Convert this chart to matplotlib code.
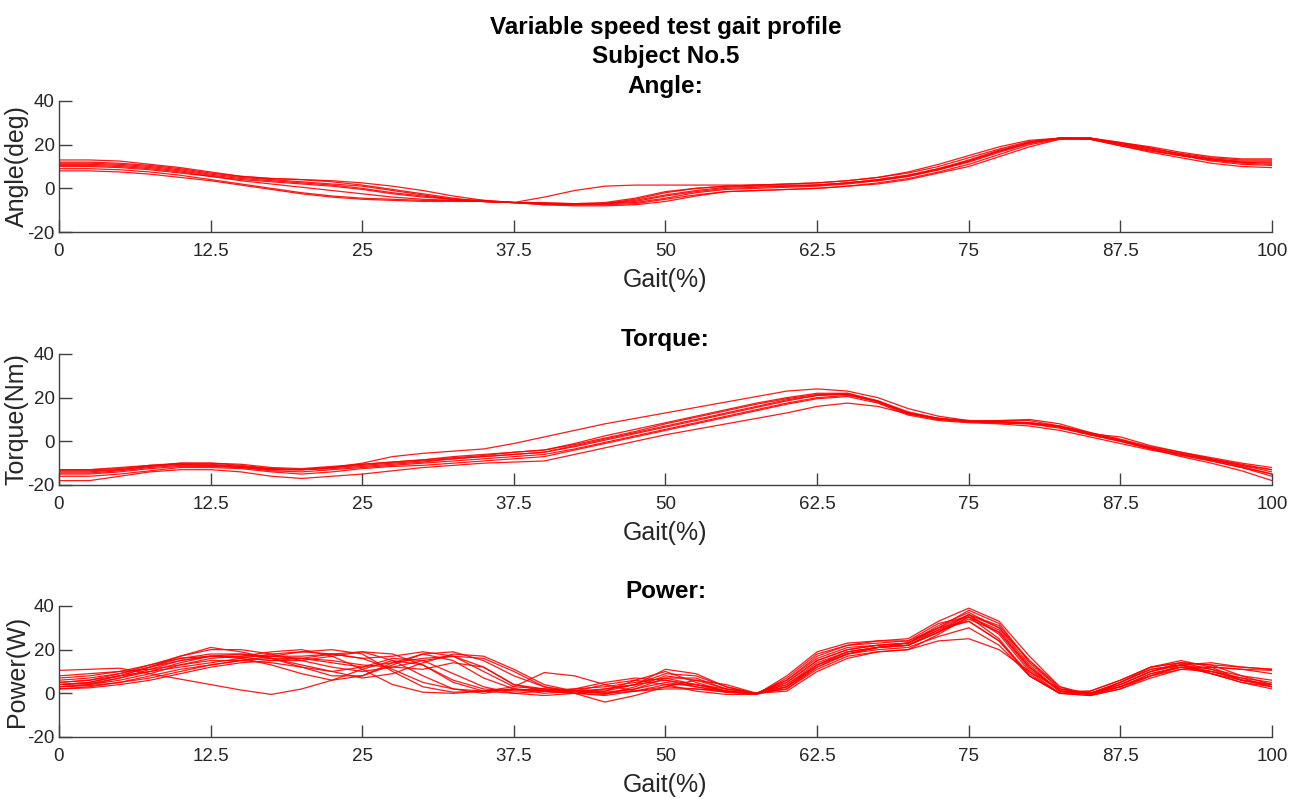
import numpy as np
import matplotlib
matplotlib.use("Agg")
import matplotlib.pyplot as plt

# gait percentage sampled every 2.5 %
gait = np.arange(0, 100.01, 2.5)

angle_trials = [
    [12, 12, 11.5, 10.5, 9, 7, 5.5, 4.5, 4, 3.5, 2.5, 1, -1, -3.5, -5.5, -6.5, -6.5, -7, -7, -5, -2, 0, 1, 1.5, 2, 2.5, 3.5, 5, 7, 10, 14, 18, 21.5, 23, 23, 20.5, 18, 16, 14, 13, 13],
    [11, 11, 10.5, 9.5, 8, 6, 4.5, 3.5, 2.5, 1.5, 0, -2, -3.5, -5, -6, -6.5, -4, -1, 1, 1.5, 1.5, 1.5, 1.5, 1.5, 1.5, 1.5, 2.5, 4, 6, 9, 12.5, 17, 21, 23, 23, 21, 18.5, 15.5, 13.5, 12, 11.5],
    [9, 9, 8.5, 7.5, 6, 4, 2, 0, -2, -3.5, -4.5, -5, -5.5, -5.5, -6, -6.5, -7, -7.5, -7.5, -7, -5, -3, -1.5, -1, -0.5, 0, 1, 2.5, 4.5, 7.5, 11, 15.5, 20, 22.5, 22.5, 19.5, 17, 15, 12.5, 11, 10.5],
    [10, 10, 9.5, 8.5, 7, 5.5, 4, 3, 2, 1, -0.5, -2.5, -4, -5, -5.5, -6.5, -7, -7, -7, -6, -3.5, -1.5, 0, 0.5, 1, 1.5, 2.5, 4, 6, 9, 13, 17.5, 21, 23, 22.5, 20, 17.5, 15, 13, 11.5, 11],
    [13, 13, 12.5, 11, 9.5, 7.5, 5.5, 4.5, 4, 3, 1.5, -0.5, -2.5, -4.5, -6, -6.5, -7, -7, -6.5, -4.5, -1.5, 0, 1, 1.5, 2, 2.5, 3.5, 5, 7.5, 11, 15, 19, 22, 23, 23, 21, 19, 16.5, 14.5, 13.5, 13.5],
    [8, 8, 7.5, 6.5, 5, 3.5, 1.5, -0.5, -2.5, -4, -5, -5.5, -6, -6, -6, -6.5, -7.5, -8, -8, -7.5, -6, -3.5, -1.5, -1, -0.5, 0, 1, 2, 4, 7, 10, 14.5, 19, 22.5, 22.5, 19.5, 16.5, 14, 11.5, 10, 9.5],
    [11.5, 11.5, 11, 10, 8.5, 6.5, 5, 4, 3, 2, 1, -1, -3, -5, -6, -6.5, -7, -7, -7, -6.5, -4.5, -2, -0.5, 0, 0.5, 1, 2, 3.5, 5.5, 8.5, 12, 16.5, 20.5, 23, 23, 20, 17.5, 15, 13, 12, 12],
    [10.5, 10.5, 10, 9, 7.5, 5.5, 3.5, 2, 0.5, -1, -2.5, -4, -5, -5.5, -6, -6.5, -7.5, -7.5, -7, -5.5, -3, -1, 0.5, 1, 1, 1.5, 2.5, 3.5, 5.5, 8.5, 12.5, 17, 21, 23, 23, 20.5, 18.5, 15.5, 13.5, 12.5, 12.5],
]

torque_trials = [
    [-13, -13, -12, -11, -10.5, -11, -12, -13, -13, -12, -10, -7, -5.5, -4.5, -3.5, -1, 2, 5, 8, 10.5, 13, 15.5, 18, 20.5, 23, 24, 23, 20, 15, 11.5, 9.5, 9, 8.5, 7, 4, 0.5, -3, -6, -9, -12, -15],
    [-18, -18, -16, -14, -13, -13, -14, -16, -17, -16, -15, -13.5, -12, -11, -10, -9.5, -9, -6, -3, 0, 3, 5.5, 8, 10.5, 13, 16, 17.5, 16, 12.5, 10.5, 9, 8.5, 8, 6.5, 3, 0, -3.5, -7, -10, -13.5, -18],
    [-14, -14, -13, -11.5, -10.5, -10.5, -11.5, -13, -13, -12, -11, -10, -9, -8, -7, -6, -5, -2, 1, 4, 7, 10, 13, 16, 19, 21, 21.5, 18, 12.5, 10, 9, 9, 8.5, 6.5, 3, 0.5, -3, -5.5, -8, -11, -14],
    [-15, -15, -14, -12.5, -11.5, -11.5, -12, -13.5, -14, -13, -12, -11, -10, -9, -8, -7, -6, -3.5, -0.5, 2.5, 5.5, 8.5, 11.5, 14.5, 17.5, 20, 21, 18.5, 13, 10.5, 9, 8.5, 8, 6, 3, 0, -3.5, -6, -8.5, -11.5, -15],
    [-13, -13, -12.5, -11, -10, -10, -11, -12.5, -13, -12, -10.5, -9.5, -8.5, -7.5, -6.5, -5, -4, -1, 2.5, 5.5, 8.5, 11.5, 14.5, 17.5, 20, 22, 22, 18.5, 13, 10, 9, 9.5, 10, 8, 4, 1, -2.5, -5, -7.5, -10, -12],
    [-16, -16, -15, -13.5, -12, -12, -12.5, -14, -15, -14, -12.5, -11.5, -11, -10, -9, -8, -7, -4, -1, 2, 5, 8, 11, 14, 17, 19.5, 20.5, 17.5, 12, 9.5, 8.5, 8, 7, 5, 2, -1, -4, -6.5, -9, -12, -16],
    [-14.5, -14.5, -13.5, -12, -11, -11, -11.5, -12.5, -13, -12.5, -11.5, -10.5, -9.5, -8, -7, -6, -5, -2.5, 0.5, 3.5, 6.5, 9.5, 12.5, 15.5, 18.5, 21, 22, 18.5, 13.5, 10.5, 9, 8.5, 8.5, 7, 3.5, 0.5, -3, -6, -8.5, -11, -13],
    [-13.5, -13.5, -13, -11.5, -10, -10, -10.5, -12, -12.5, -11.5, -10.5, -9.5, -8.5, -7, -6, -5, -4, -1.5, 1.5, 4.5, 8, 11, 14, 17, 19.5, 21.5, 21.5, 18, 13, 10.5, 9.5, 9.5, 9.5, 7, 3.5, 2, -2, -5, -8, -10.5, -13],
]

power_trials = [
    [10.5, 11, 11.5, 9, 6.5, 4, 1.5, -0.5, 2, 6, 11, 15, 13, 5, 1, 1.5, 2, 1, 0, 2, 5, 3, 0.5, 0, 2, 11, 17, 19, 20, 24, 25, 20, 10, 2, 0, 3, 8, 11, 12, 11, 10.5],
    [4, 5, 8, 12, 16, 17, 16.5, 15, 15, 17, 19, 18, 13, 6, 2, 1, 1.5, 1, 2, 4, 6, 4, 1, 0, 5, 15, 20, 22, 23, 31, 37, 30, 15, 2, 0, 4, 10, 14, 13, 8, 4],
    [3, 4, 6, 9, 13, 16, 17, 17, 16, 14, 12, 14, 16, 17, 12, 4, 2, 1.5, 1, 4, 11, 9, 3, -0.5, 3, 13, 19, 21, 22, 28, 34, 28, 12, 1, 0, 3, 9, 12, 10, 7, 5],
    [5, 6, 9, 13, 17, 20, 20, 18, 15, 12, 10, 12, 15, 17, 16, 10, 3, 0, -0.5, 3, 8, 6, 2, 0, 6, 17, 22, 24, 25, 33, 39, 33, 17, 3, -0.5, 5, 12, 15, 12, 6, 4],
    [2, 3, 5, 8, 11, 13, 15, 17, 19, 20, 18, 10, 3, 0.5, 1, 2, 1, 2, 5, 7, 6, 3, 1, 0, 1, 10, 16, 19, 20, 27, 35, 29, 12, 1, 1, 6, 12, 14, 13, 12, 11],
    [6, 7, 9, 12, 15, 17, 17, 19, 20, 17, 11, 4, 0.5, 0, 1, 3, 2, 0, -1, 1, 4, 4, 2, 0, 4, 14, 19, 21, 23, 30, 33, 24, 8, 0, -1, 3, 8, 12, 12, 11, 9],
    [4, 4.5, 7, 10, 14, 17, 18, 16, 12, 8, 8, 14, 18, 15, 7, 2, 0, 1, 4, 6, 4, 1, -0.5, -0.5, 7, 18, 22, 23, 24, 30, 36, 27, 10, 0, 0, 5, 11, 13, 9, 5, 3],
    [3, 4, 7, 11, 15, 17, 16, 13, 9, 6, 8, 13, 18, 19, 15, 8, 3, 1, 0.5, 2, 7, 7, 2, 0, 2, 12, 18, 21, 22, 28, 36, 31, 15, 3, -1, 2, 7, 11, 10, 7, 3],
    [5, 6, 8, 10, 12, 14, 16, 18, 19, 18, 16, 17, 19, 17, 10, 3, 9.5, 8, 4, 1, 2, 2, 1, 0, 4, 13, 18, 20, 21, 26, 30, 22, 8, 0, -1, 2, 8, 13, 14, 12, 11],
    [8, 9, 10, 11, 13, 15, 15, 14, 12, 10, 12, 16, 15, 9, 3, 0, -1, 0, -4, -1, 3, 2, 0.5, -0.5, 8, 19, 23, 24, 24, 32, 35, 25, 8, 0, 0, 5, 11, 13, 9, 6, 4],
    [2, 2.5, 4, 6, 9, 12, 14, 15, 16, 18, 19, 15, 8, 2, 0, 2, 1, 0, 2, 4, 9, 8, 3, 0, 5, 15, 20, 22, 23, 30, 38, 32, 14, 2, 0, 4, 10, 13, 11, 6, 3],
    [4, 5, 8, 12, 17, 21, 19, 16, 13, 10, 7, 9, 14, 18, 17, 11, 4, 1, 0, 1, 3, 6, 4, 0, 3, 13, 19, 21, 22, 29, 36, 30, 13, 1, -0.5, 3, 9, 12, 9, 5, 2],
    [7, 8, 10, 13, 16, 18, 18, 17, 17, 18, 16, 11, 5, 2, 1, 0, 1, 2, 3, 5, 7, 4, 1, 0, 6, 16, 21, 22, 23, 29, 33, 24, 9, 0, 1, 6, 12, 14, 11, 8, 6],
    [3, 3.5, 5, 7, 10, 13, 15, 16, 16, 15, 13, 12, 11, 14, 12, 4, 1, 0, 1, 6, 10, 5, 1, 0, 3, 12, 18, 21, 22, 28, 35, 28, 11, 1, 0, 4, 10, 13, 10, 6, 4],
]

xticks = [0, 12.5, 25, 37.5, 50, 62.5, 75, 87.5, 100]
xticklabels = ["0", "12.5", "25", "37.5", "50", "62.5", "75", "87.5", "100"]
yticks = [-20, 0, 20, 40]

panels = [
    ("Variable speed test gait profile\nSubject No.5\nAngle:", "Angle(deg)", angle_trials),
    ("Torque:", "Torque(Nm)", torque_trials),
    ("Power:", "Power(W)", power_trials),
]

plt.rcParams["font.family"] = ["Liberation Sans", "DejaVu Sans"]
plt.rcParams["axes.unicode_minus"] = False
AX_GRAY = "#404040"
TXT_GRAY = "#262626"

fig = plt.figure(figsize=(12.99, 7.99), dpi=100)
bottoms = [0.7096, 0.3930, 0.0776]
for (title, ylabel, trials), b in zip(panels, bottoms):
    ax = fig.add_axes([0.0454, b, 0.9338, 0.164])
    for tr in trials:
        ax.plot(gait, tr, color="red", lw=0.9, alpha=0.9)
    ax.set_xlim(0, 100)
    ax.set_ylim(-20, 40)
    ax.set_xticks(xticks)
    ax.set_xticklabels(xticklabels)
    ax.set_yticks(yticks)
    for s in ("top", "right"):
        ax.spines[s].set_visible(False)
    for s in ("left", "bottom"):
        ax.spines[s].set_color(AX_GRAY)
        ax.spines[s].set_linewidth(1.0)
    ax.tick_params(direction="in", length=9, width=1.0, color=AX_GRAY,
                   labelcolor=TXT_GRAY, labelsize=13.5)
    ax.tick_params(axis="x", pad=8)
    ax.tick_params(axis="y", pad=3)
    ax.set_xlabel("Gait(%)", fontsize=18, color=TXT_GRAY, labelpad=6)
    ax.set_ylabel(ylabel, fontsize=18, color=TXT_GRAY)
    ax.yaxis.set_label_coords(-0.025, 0.5)
    ax.set_title(title, fontsize=17.5, fontweight="bold", linespacing=1.35, pad=6)

fig.savefig("out.png", dpi=100)
